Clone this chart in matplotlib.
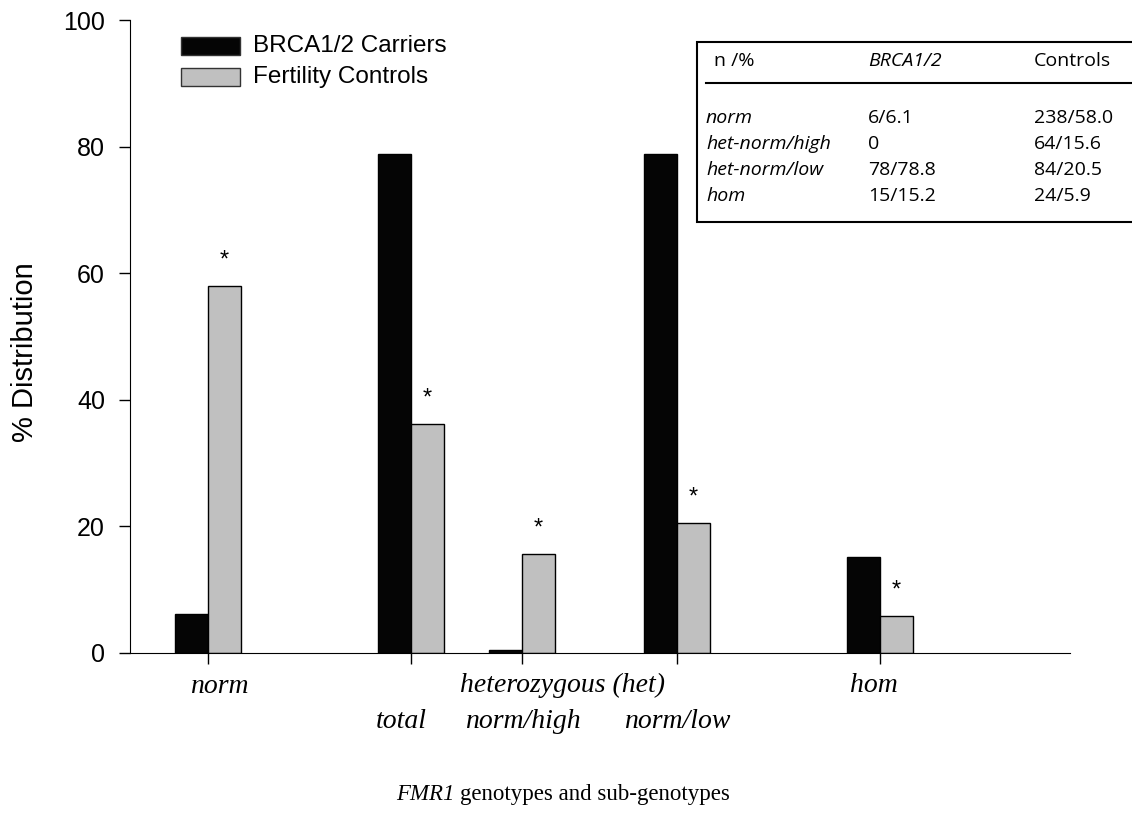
import numpy as np
import matplotlib
matplotlib.use("Agg")
import matplotlib.pyplot as plt
from matplotlib.patches import Rectangle
from matplotlib.lines import Line2D

# data
groups = ["norm", "total", "norm/high", "norm/low", "hom"]
brca = [6.1, 78.8, 0.4, 78.8, 15.2]
controls = [58.0, 36.1, 15.6, 20.5, 5.9]
stars = [True, True, True, True, True]

table_header = ["n /%", "BRCA1/2", "Controls"]
table_rows = ["norm", "het-norm/high", "het-norm/low", "hom"]
table_brca = ["6/6.1", "0", "78/78.8", "15/15.2"]
table_ctrl = ["238/58.0", "64/15.6", "84/20.5", "24/5.9"]

# layout (pixel-ish units along x)
xpos = np.array([78, 281, 392, 547, 750])
w = 33

fig = plt.figure(figsize=(11.32, 8.22), dpi=100)
ax = fig.add_axes([130/1132, 1-653/822, 940/1132, 633/822])

ax.bar(xpos - w/2, brca, w, color="#050505", edgecolor="black", linewidth=1)
ax.bar(xpos + w/2, controls, w, color="#c0c0c0", edgecolor="black", linewidth=1)
for x, v, s in zip(xpos, controls, stars):
    if s:
        ax.text(x + w/2, v + 2.3, "*", ha="center", va="bottom", fontsize=17,
                family="Liberation Sans")

ax.set_xlim(0, 940)
ax.set_ylim(0, 100)
ax.spines["top"].set_visible(False)
ax.spines["right"].set_visible(False)
ax.set_yticks([0, 20, 40, 60, 80, 100])
ax.tick_params(axis="y", direction="out", length=8, width=1, labelsize=18, pad=10)
ax.set_xticks(xpos)
ax.set_xticklabels([])
ax.tick_params(axis="x", direction="out", length=8, width=1)
for lab in ax.get_yticklabels():
    lab.set_family("Liberation Sans")
fig.text(25/1132, 1-352/822, "% Distribution", rotation=90, ha="center", va="center",
         fontsize=21, family="Liberation Sans")

# x labels (two rows)
serif = dict(family="Liberation Serif", style="italic", fontsize=20, ha="center",
             va="center")
fig.text(219/1132, 1-686/822, "norm", **serif)
fig.text(563/1132, 1-685/822, "heterozygous (het)", **serif)
fig.text(874/1132, 1-685/822, "hom", **serif)
fig.text(401/1132, 1-721/822, "total", **serif)
fig.text(523/1132, 1-721/822, "norm/high", **serif)
fig.text(677/1132, 1-721/822, "norm/low", **serif)

fig.text(455/1132, 1-794/822, "FMR1", ha="right", va="center", fontsize=16.5,
         family="Liberation Serif", style="italic")
fig.text(460/1132, 1-794/822, "genotypes and sub-genotypes", ha="left", va="center",
         fontsize=16.5, family="Liberation Serif")

# legend
for i, (lab, col) in enumerate([("BRCA1/2 Carriers", "#050505"),
                                ("Fertility Controls", "#c0c0c0")]):
    y0 = 37 + i*31
    fig.patches.append(Rectangle((181/1132, 1-(y0+18)/822), 59/1132, 18/822,
                                 transform=fig.transFigure, facecolor=col,
                                 edgecolor="#333333", linewidth=1))
    fig.text(253/1132, 1-(y0+9)/822, lab, va="center", ha="left", fontsize=17.5,
             family="Liberation Sans")

# table box
fig.patches.append(Rectangle((697/1132, 1-222/822), 450/1132, 180/822,
                             transform=fig.transFigure, facecolor="white",
                             edgecolor="black", linewidth=1.5))
fig.lines.append(Line2D([706/1132, 1.0], [1-83/822, 1-83/822],
                        transform=fig.transFigure, color="black", linewidth=1.5))
tfont = dict(family="Open Sans", fontsize=14, va="center", ha="left")
cols = [714, 868, 1034]
fig.text(cols[0]/1132, 1-61/822, table_header[0], **tfont)
fig.text(cols[1]/1132, 1-61/822, table_header[1], style="italic", **tfont)
fig.text(cols[2]/1132, 1-61/822, table_header[2], **tfont)
for i, (r, b, c) in enumerate(zip(table_rows, table_brca, table_ctrl)):
    yy = 1-(118 + i*26)/822
    fig.text(706/1132, yy, r, style="italic", **tfont)
    fig.text(cols[1]/1132, yy, b, **tfont)
    fig.text(cols[2]/1132, yy, c, **tfont)

fig.savefig("out.png", dpi=100)
